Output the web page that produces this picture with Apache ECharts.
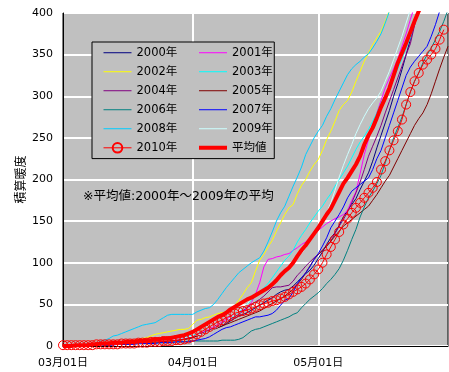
<!DOCTYPE html>
<html>
<head>
<meta charset="utf-8">
<script src="https://cdn.jsdelivr.net/npm/echarts@6/dist/echarts.min.js"></script>
<style>
html,body{margin:0;padding:0;background:#fff;}
#c{width:449px;height:372px;}
</style>
</head>
<body>
<div id="c"></div>
<script>
// Categories: Mar 1 .. Jun 1 (93 days)
const monthLengths = [[3, 31], [4, 30], [5, 31], [6, 1]];
const categories = [];
monthLengths.forEach(([m, n]) => {
  for (let d = 1; d <= n; d++) {
    categories.push(String(m).padStart(2, '0') + '月' + String(d).padStart(2, '0') + '日');
  }
});
const labelIdx = [0, 31, 61];
const gridIdx = [31, 61];

const yTicks = [0, 50, 100, 150, 200, 250, 300, 350, 400];

const seriesNames = ['2000年','2001年','2002年','2003年','2004年','2005年','2006年','2007年','2008年','2009年','2010年','平均値'];
const seriesColors = ['#000080','#FF00FF','#FFFF00','#00FFFF','#800080','#800000','#008080','#0000FF','#00CCFF','#CCFFFF','#FF0000','#FF0000'];

const N = null;
const s2000 = [0,0,0,0,1,1,1,1,1,2, 2,2,2,3,3,3,3,4,4,4, 5,5,5,6,6,6,7,7,8,8, 9,10,12,14,16,18,20,22,24,27,
  30,33,36,38,40,43,46,49,52,55, 58,62,65,67,68,72,77,82,87,91, 97,105,113,122,130,136,145,155,163,170,
  177,188,198,208,222,238,253,268,283,300, 315,332,350,368,388,405,N,N,N,N, N,N,N];
const s2001 = [0,0,0,0,0,1,1,1,1,1, 2,2,2,2,3,3,3,4,4,4, 5,5,6,6,7,7,8,8,9,10, 11,12,14,16,18,20,23,26,29,32,
  35,38,41,43,45,52,62,76,95,104, 105,107,108,110,111,115,118,122,125,130, 135,139,143,147,150,153,155,158,163,175,
  185,207,230,248,265,280,295,310,322,333, 345,360,375,392,408,N,N,N,N,N, N,N,N];
const s2002 = [0,0,0,0,1,1,1,1,2,2, 2,3,3,3,4,5,6,7,8,9, 10,12,14,15,16,17,18,19,20,20, 21,26,31,32,34,35,37,39,40,41,
  44,48,55,62,70,76,90,103,110,119, 127,138,148,158,166,170,183,193,200,210, 218,224,235,248,258,270,283,290,295,305,
  318,330,342,352,362,370,378,390,403,415, N,N,N,N,N,N,N,N,N,N, N,N,N];
const s2003 = [0,0,0,0,0,1,1,1,1,2, 2,2,3,3,3,4,4,5,5,6, 6,7,7,8,8,9,9,10,10,11, 12,13,14,15,17,19,21,23,26,29,
  33,37,41,45,50,55,60,65,70,75, 82,89,96,103,108,115,125,133,140,148, 155,162,168,176,183,192,200,208,216,226,
  236,245,252,260,270,280,292,302,312,322, 333,345,358,370,388,402,415,N,N,N, N,N,N];
const s2004 = [0,0,0,0,0,0,1,1,1,1, 1,2,2,2,2,3,3,3,4,4, 4,5,5,6,6,7,7,8,9,10, 10,11,13,15,17,19,21,24,27,30,
  32,35,38,42,46,50,53,56,60,65, 70,71,71,72,73,78,85,90,96,101, 106,110,115,120,126,135,144,152,161,172,
  184,197,212,228,240,252,265,280,294,308, 322,336,350,363,385,405,N,N,N,N, N,N,N];
const s2005 = [0,0,0,0,0,0,0,1,1,1, 1,1,2,2,2,2,3,3,3,4, 4,4,5,5,5,6,6,7,7,8, 9,10,12,14,16,18,20,22,24,26,
  28,30,32,34,36,38,40,42,45,48, 51,54,57,60,64,68,74,80,88,96, 104,110,115,120,126,132,138,144,148,152,
  156,160,164,168,175,182,190,198,205,215, 225,235,245,255,265,273,280,290,303,318, 333,347,360];
const s2006 = [0,0,0,0,0,0,1,1,1,1, 1,1,2,2,2,2,2,3,3,3, 3,3,4,4,4,4,5,5,5,5, 6,6,6,6,6,6,6,6,7,7,
  7,7,8,10,14,18,20,21,23,25, 27,29,31,33,35,38,40,46,51,56, 60,64,69,75,80,86,93,103,115,128,
  140,155,167,178,186,195,205,220,235,250, 262,275,290,305,318,328,340,350,358,368, 378,390,404];
const s2007 = [0,0,0,0,0,0,0,1,1,1, 1,1,1,2,2,2,2,2,3,3, 3,3,3,4,4,4,4,5,5,5, 5,6,7,8,9,11,14,17,20,22,
  23,25,27,29,31,33,35,35,36,37, 39,43,49,55,57,65,75,82,88,95, 104,111,120,130,142,150,158,167,178,186,
  190,194,198,202,212,225,235,250,265,280, 295,310,325,335,342,348,354,360,372,386, 402,415,N];
const s2008 = [0,0,1,1,1,2,2,2,3,6, 7,9,12,13,15,17,19,21,23,25, 26,27,28,31,34,37,38,38,38,38, 38,38,41,43,45,46,50,56,63,70,
  76,82,88,92,96,100,103,106,114,125, 137,150,160,168,180,192,203,215,230,240, 250,258,265,276,285,296,306,316,326,333,
  338,342,347,351,358,366,375,388,402,415, N,N,N,N,N,N,N,N,N,N, N,N,N];
const s2009 = [0,0,0,0,0,0,1,1,1,1, 2,2,2,2,3,3,3,4,4,4, 5,5,6,6,7,7,8,8,9,10, 11,12,13,14,16,18,20,23,26,30,
  34,38,42,46,50,57,60,63,66,70, 76,80,84,89,95,100,106,111,118,126, 132,140,150,160,172,187,203,217,230,242,
  255,266,276,285,292,298,306,318,330,344, 358,372,388,404,418,N,N,N,N,N, N,N,N];
const s2010 = [1,1,1,1,1,1,1,1,2,2, 2,2,2,2,3,3,3,3,4,4, 4,5,5,5,6,6,6,7,7,8, 9,11,14,17,20,23,26,29,31,34,
  36,39,41,42,43,45,47,49,51,52, 54,55,57,59,62,65,68,71,75,80, 86,92,100,110,119,128,137,146,153,160,
  166,172,178,184,190,197,212,222,235,247, 258,272,290,305,318,328,338,344,350,357, 368,380,N];
const sAvg = [0,0,0,1,1,1,1,2,2,3, 3,3,4,4,4,5,5,5,6,6, 7,7,8,8,9,9,10,11,12,13, 15,17,20,23,26,29,32,35,37,40,
  44,47,50,53,56,58,61,64,67,70, 74,79,85,90,94,100,108,115,121,128, 135,142,150,158,165,175,185,195,202,210,
  218,228,242,253,262,274,287,298,310,325, 340,352,364,377,390,402,414,N,N,N, N,N,N];

const seriesData = [s2000,s2001,s2002,s2003,s2004,s2005,s2006,s2007,s2008,s2009,s2010,sAvg];

const FONT = '"DejaVu Sans", "Noto Sans CJK JP", sans-serif';

const lineWidthOf = (name) => name === '平均値' ? 4 : 1;

const series = seriesData.map((d, i) => {
  const name = seriesNames[i];
  const color = seriesColors[i];
  const base = {
    name: name, type: 'line', data: d, animation: false, silent: true,
    lineStyle: { color: color, width: lineWidthOf(name) },
    itemStyle: { color: color },
    symbol: 'none', connectNulls: false, z: 2 + i
  };
  if (name === '2010年') {
    base.symbol = 'circle';
    base.symbolSize = 9;
    base.showSymbol = true;
    base.showAllSymbol = true;
    base.itemStyle = { color: 'rgba(0,0,0,0)', borderColor: color, borderWidth: 1 };
  }
  return base;
});

function legendItem(i) {
  const name = seriesNames[i];
  const item = { name: name, lineStyle: { width: lineWidthOf(name), color: seriesColors[i] } };
  if (name !== '2010年') {
    item.itemStyle = { color: 'rgba(0,0,0,0)', borderColor: 'rgba(0,0,0,0)', borderWidth: 0 };
  }
  return item;
}

const legendCommon = {
  orient: 'vertical', itemWidth: 28, itemHeight: 12, itemGap: 7.5,
  selectedMode: false,
  textStyle: { fontSize: 11.5, color: '#000', fontFamily: FONT }
};

const chart = echarts.init(document.getElementById('c'), null, { renderer: 'canvas' });
chart.setOption({
  animation: false,
  backgroundColor: '#fff',
  textStyle: { fontFamily: FONT },
  title: {
    text: '※平均値:2000年～2009年の平均', left: 83, top: 190, padding: 0,
    textStyle: { fontSize: 12.5, fontWeight: 'normal', color: '#000', fontFamily: FONT }
  },
  grid: { left: 63, right: 1, top: 13, bottom: 26, show: true, backgroundColor: '#C0C0C0', borderColor: '#000', borderWidth: 1 },
  legend: [
    Object.assign({}, legendCommon, {
      data: [0,2,4,6,8,10].map(legendItem),
      left: 92, top: 42, padding: [5, 97, 5, 11],
      borderColor: '#000', borderWidth: 1, backgroundColor: '#C0C0C0', z: 10
    }),
    Object.assign({}, legendCommon, {
      data: [1,3,5,7,9,11].map(legendItem),
      left: 197, top: 47, padding: 0, z: 11
    })
  ],
  xAxis: {
    type: 'category', data: categories, boundaryGap: false,
    axisLine: { show: true, lineStyle: { color: '#000', width: 1 } },
    axisTick: { show: false },
    axisLabel: { interval: (i) => labelIdx.includes(i), color: '#000', fontSize: 11, margin: 12, fontFamily: FONT },
    splitLine: { show: true, interval: (i) => gridIdx.includes(i), lineStyle: { color: '#FFFFFF', width: 2 } }
  },
  yAxis: {
    type: 'value', min: yTicks[0], max: yTicks[yTicks.length - 1], interval: 50,
    name: '積算暖度', nameLocation: 'middle', nameGap: 35, nameMoveOverlap: false,
    nameTextStyle: { fontSize: 12, color: '#000', fontFamily: FONT },
    axisLine: { show: true, lineStyle: { color: '#000', width: 1 } },
    axisTick: { show: false },
    axisLabel: { color: '#000', fontSize: 11, margin: 10, fontFamily: FONT },
    splitLine: { show: true, lineStyle: { color: '#FFFFFF', width: 2 } }
  },
  series: series
});
</script>
</body>
</html>
